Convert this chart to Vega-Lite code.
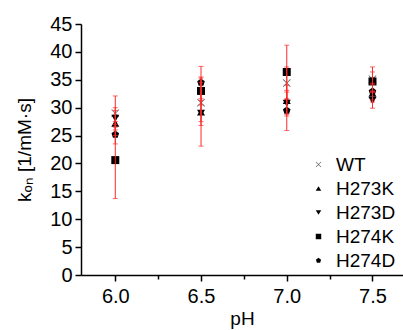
{
  "$schema": "https://vega.github.io/schema/vega-lite/v6.json",
  "width": 322,
  "height": 251,
  "autosize": {"type": "none"},
  "padding": {"left": 81, "top": 24, "right": 0, "bottom": 55},
  "background": "white",
  "config": {
    "view": {"stroke": null},
    "axis": {
      "grid": false,
      "domainColor": "black",
      "domainWidth": 1.5,
      "tickColor": "black",
      "tickWidth": 1.5,
      "tickSize": 6,
      "labelFont": "Liberation Sans",
      "labelFontSize": 20,
      "labelColor": "black",
      "titleFont": "Liberation Sans",
      "titleFontSize": 19,
      "titleFontWeight": "normal",
      "titleColor": "black"
    },
    "legend": {
      "labelFont": "Liberation Sans",
      "labelFontSize": 19,
      "labelColor": "black"
    }
  },
  "data": {
    "values": [
      {"pH": 6.0, "series": "WT", "k": 29.0, "lo": 26.0, "hi": 32.1},
      {"pH": 6.0, "series": "H273K", "k": 27.2, "lo": 25.0, "hi": 29.5},
      {"pH": 6.0, "series": "H273D", "k": 28.1, "lo": 26.5, "hi": 30.0},
      {"pH": 6.0, "series": "H274K", "k": 20.6, "lo": 13.7, "hi": 27.5},
      {"pH": 6.0, "series": "H274D", "k": 25.2, "lo": 23.5, "hi": 27.0},
      {"pH": 6.5, "series": "WT", "k": 30.9, "lo": 27.5, "hi": 34.5},
      {"pH": 6.5, "series": "H273K", "k": 29.2, "lo": 23.1, "hi": 35.3},
      {"pH": 6.5, "series": "H273D", "k": 29.0, "lo": 26.8, "hi": 31.3},
      {"pH": 6.5, "series": "H274K", "k": 33.0, "lo": 30.5, "hi": 35.5},
      {"pH": 6.5, "series": "H274D", "k": 34.5, "lo": 31.6, "hi": 37.4},
      {"pH": 7.0, "series": "WT", "k": 34.4, "lo": 31.5, "hi": 37.3},
      {"pH": 7.0, "series": "H273K", "k": 31.3, "lo": 28.5, "hi": 34.0},
      {"pH": 7.0, "series": "H273D", "k": 30.8, "lo": 28.8, "hi": 32.8},
      {"pH": 7.0, "series": "H274K", "k": 36.4, "lo": 31.6, "hi": 41.2},
      {"pH": 7.0, "series": "H274D", "k": 29.5, "lo": 25.9, "hi": 33.1},
      {"pH": 7.5, "series": "WT", "k": 35.1, "lo": 32.9, "hi": 37.3},
      {"pH": 7.5, "series": "H273K", "k": 32.6, "lo": 31.0, "hi": 34.2},
      {"pH": 7.5, "series": "H273D", "k": 31.3, "lo": 29.9, "hi": 32.7},
      {"pH": 7.5, "series": "H274K", "k": 34.7, "lo": 33.0, "hi": 36.4},
      {"pH": 7.5, "series": "H274D", "k": 32.9, "lo": 31.4, "hi": 34.4}
    ]
  },
  "layer": [
    {
      "mark": {"type": "point", "filled": true, "size": 64, "opacity": 1},
      "encoding": {
        "x": {
          "field": "pH", "type": "quantitative",
          "scale": {"domain": [5.8, 7.678], "nice": false, "zero": false},
          "axis": {"values": [6.0, 6.5, 7.0, 7.5], "format": ".1f", "title": "pH", "labelPadding": 5, "titlePadding": 3}
        },
        "y": {
          "field": "k", "type": "quantitative",
          "scale": {"domain": [0, 45], "nice": false},
          "axis": {"values": [0, 5, 10, 15, 20, 25, 30, 35, 40, 45], "title": "kₒₙ [1/mM·s]", "labelPadding": 3, "titlePadding": 15}
        },
        "shape": {
          "field": "series", "type": "nominal",
          "scale": {
            "domain": ["WT", "H273K", "H273D", "H274K", "H274D"],
            "range": [
              "M-1,-0.85L-0.85,-1L0,-0.15L0.85,-1L1,-0.85L0.15,0L1,0.85L0.85,1L0,0.15L-0.85,1L-1,0.85L-0.15,0Z",
              "triangle-up",
              "triangle-down",
              "square",
              "M0,-1L0.95,-0.31L0.59,0.81L-0.59,0.81L-0.95,-0.31Z"
            ]
          },
          "legend": {
            "title": null,
            "orient": "none",
            "legendX": 228,
            "legendY": 131,
            "symbolSize": 30,
            "rowPadding": 4,
            "labelOffset": 8,
            "symbolStrokeWidth": 0
          }
        },
        "color": {
          "field": "series", "type": "nominal",
          "scale": {
            "domain": ["WT", "H273K", "H273D", "H274K", "H274D"],
            "range": ["#666666", "black", "black", "black", "black"]
          }
        }
      }
    },
    {
      "mark": {"type": "rule", "color": "#ff2a2a", "strokeWidth": 1},
      "encoding": {
        "x": {"field": "pH", "type": "quantitative", "axis": null},
        "y": {"field": "lo", "type": "quantitative", "axis": {"values": [0, 5, 10, 15, 20, 25, 30, 35, 40, 45], "title": "kₒₙ [1/mM·s]", "labelPadding": 3, "titlePadding": 15}},
        "y2": {"field": "hi"}
      }
    },
    {
      "mark": {"type": "tick", "color": "#ff2a2a", "size": 5, "thickness": 1, "orient": "horizontal"},
      "encoding": {
        "x": {"field": "pH", "type": "quantitative", "axis": null},
        "y": {"field": "lo", "type": "quantitative", "axis": {"values": [0, 5, 10, 15, 20, 25, 30, 35, 40, 45], "title": "kₒₙ [1/mM·s]", "labelPadding": 3, "titlePadding": 15}}
      }
    },
    {
      "mark": {"type": "tick", "color": "#ff2a2a", "size": 5, "thickness": 1, "orient": "horizontal"},
      "encoding": {
        "x": {"field": "pH", "type": "quantitative", "axis": null},
        "y": {"field": "hi", "type": "quantitative", "axis": {"values": [0, 5, 10, 15, 20, 25, 30, 35, 40, 45], "title": "kₒₙ [1/mM·s]", "labelPadding": 3, "titlePadding": 15}}
      }
    },
    {
      "mark": {"type": "point", "opacity": 0},
      "encoding": {
        "x": {
          "field": "pH", "type": "quantitative",
          "axis": {"orient": "bottom", "values": [6.25, 6.75, 7.25], "labels": false, "domain": false, "tickSize": 4, "title": null}
        },
        "y": {"field": "k", "type": "quantitative", "axis": {"values": [0, 5, 10, 15, 20, 25, 30, 35, 40, 45], "title": "kₒₙ [1/mM·s]", "labelPadding": 3, "titlePadding": 15}}
      }
    }
  ],
  "resolve": {"axis": {"x": "independent"}}
}
